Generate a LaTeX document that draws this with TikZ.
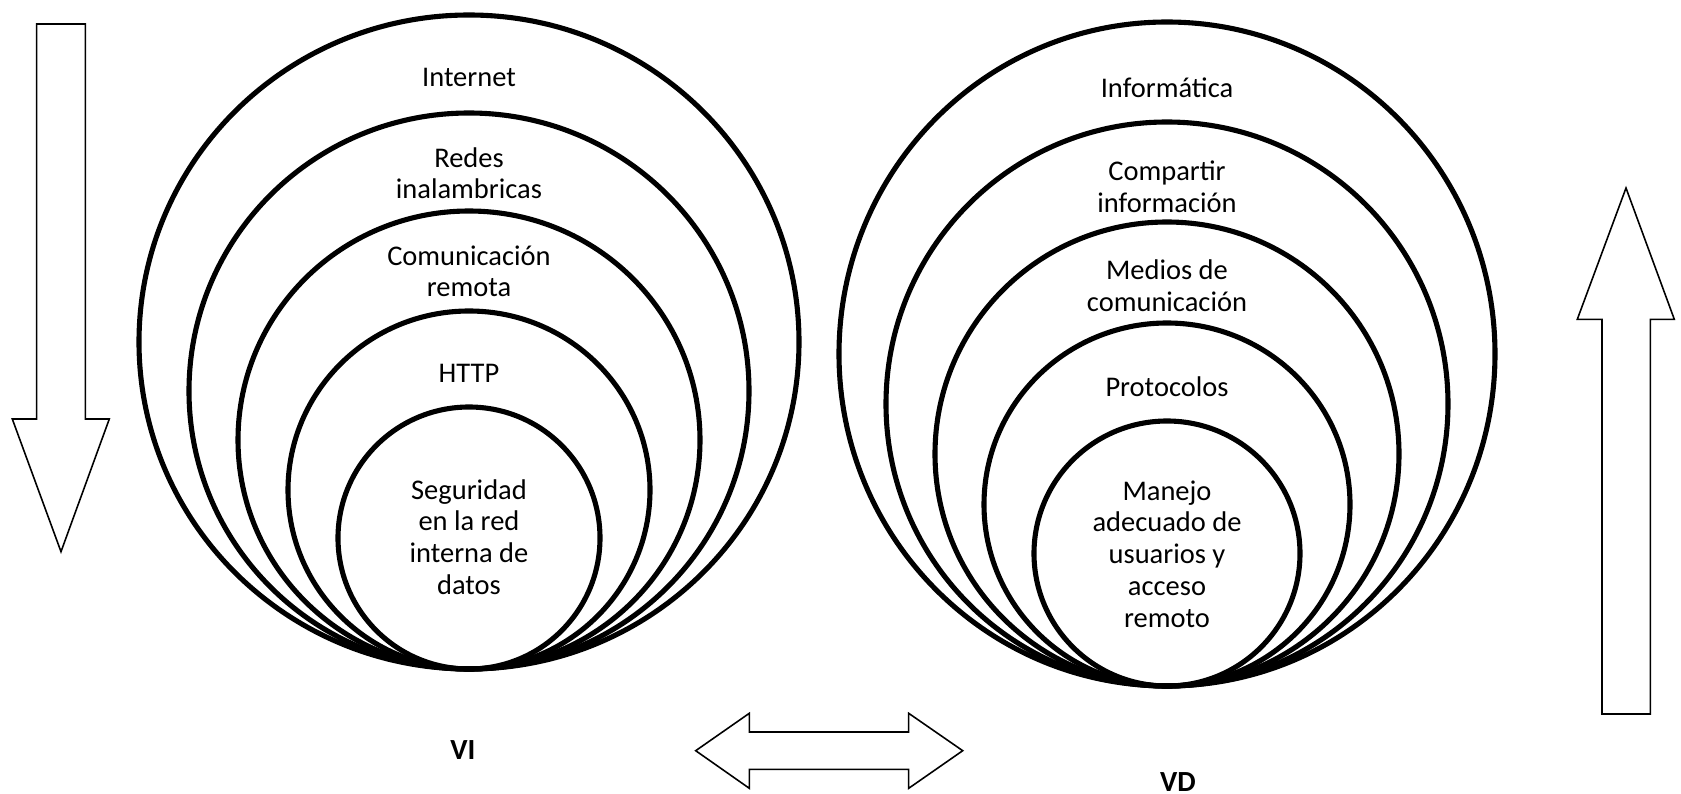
\documentclass[tikz,border=0pt]{standalone}
\usepackage{fontspec}
\setmainfont{Carlito}
\begin{document}
\begin{tikzpicture}[x=0.01cm,y=-0.01cm,
  ring/.style={line width=1.45pt},
  blockarrow/.style={line width=0.45pt, line join=miter},
  lbl/.style={anchor=base, inner sep=0pt, font=\fontsize{8.1pt}{9pt}\selectfont},
  tag/.style={anchor=base, inner sep=0pt, font=\fontsize{8.3pt}{9pt}\selectfont\bfseries}]
\useasboundingbox (0,0) rectangle (1681,794);

% left set of nested rings (all touching at the bottom)
\draw[ring] (469,342)   ellipse [x radius=330, y radius=327];
\draw[ring] (469,391)   ellipse [x radius=280, y radius=278];
\draw[ring] (469,440)   ellipse [x radius=231, y radius=229];
\draw[ring] (469,490)   ellipse [x radius=181, y radius=179];
\draw[ring] (469,538)   ellipse [x radius=131, y radius=131];

% right set of nested rings
\draw[ring] (1167,354)  ellipse [x radius=328, y radius=332];
\draw[ring] (1167,404)  ellipse [x radius=281, y radius=282];
\draw[ring] (1167,454)  ellipse [x radius=232, y radius=232];
\draw[ring] (1167,504.5)ellipse [x radius=183, y radius=181.5];
\draw[ring] (1167,553.5)ellipse [x radius=133, y radius=132.5];

% labels of the left rings
\node[lbl] (internet) at (469,87)    {Internet};
\node[lbl] (redesA)   at (469,167.7) {Redes};
\node[lbl] (redesB)   at (469,199)   {inalambricas};
\node[lbl] (comA)     at (469,265.7) {Comunicación};
\node[lbl] (comB)     at (469,296.7) {remota};
\node[lbl] (http)     at (469,382.7) {HTTP};
\node[lbl] (segA)     at (469,499)   {Seguridad};
\node[lbl] (segB)     at (469,530.5) {en la red};
\node[lbl] (segC)     at (469,562)   {interna de};
\node[lbl] (segD)     at (469,594)   {datos};

% labels of the right rings
\node[lbl] (info)     at (1167,98)   {Informática};
\node[lbl] (compA)    at (1167,181)  {Compartir};
\node[lbl] (compB)    at (1167,212.5){información};
\node[lbl] (medA)     at (1167,280)  {Medios de};
\node[lbl] (medB)     at (1167,311.5){comunicación};
\node[lbl] (proto)    at (1167,396.5){Protocolos};
\node[lbl] (manA)     at (1167,500)  {Manejo};
\node[lbl] (manB)     at (1167,531.5){adecuado de};
\node[lbl] (manC)     at (1167,563)  {usuarios y};
\node[lbl] (manD)     at (1167,595)  {acceso};
\node[lbl] (manE)     at (1167,627)  {remoto};

% variable tags
\node[tag] (vi) at (463,759)  {VI};
\node[tag] (vd) at (1178,791) {VD};

% block arrows
\draw[blockarrow] (36.7,24) -- (85.3,24) -- (85.3,419) -- (109.3,419)
  -- (61,551.7) -- (12.3,419) -- (36.7,419) -- cycle;
\draw[blockarrow] (1602,714) -- (1602,319.3) -- (1577.3,319.3) -- (1626,188)
  -- (1674.3,319.3) -- (1650.3,319.3) -- (1650.3,714) -- cycle;
\draw[blockarrow] (695.7,750.7) -- (749.3,713.3) -- (749.3,732) -- (908.7,732)
  -- (908.7,713.3) -- (962.7,750.7) -- (908.7,788.3) -- (908.7,769.3)
  -- (749.3,769.3) -- (749.3,788.3) -- cycle;
\end{tikzpicture}
\end{document}
